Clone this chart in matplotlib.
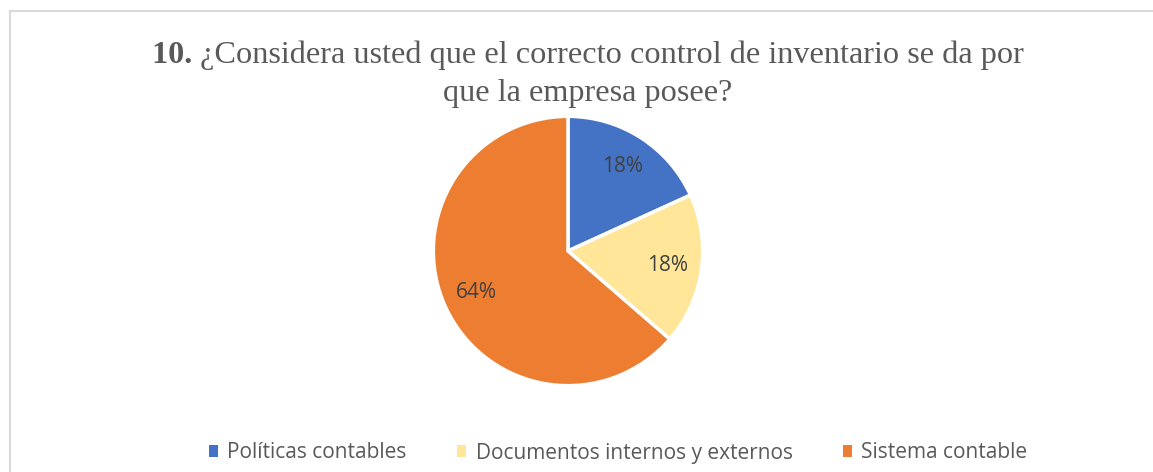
import matplotlib
matplotlib.use("Agg")
import matplotlib.pyplot as plt
from matplotlib.patches import Patch
from matplotlib.lines import Line2D

# data
labels = ["Políticas contables", "Documentos internos y externos", "Sistema contable"]
counts = [2, 2, 7]
colors = ["#4472C4", "#FFE699", "#ED7D31"]
title_num = "10."
title_line1 = "¿Considera usted que el correcto control de inventario se da por"
title_line2 = "que la empresa posee?"

W, H = 1153, 472
fig = plt.figure(figsize=(W / 100, H / 100), dpi=100)
fig.patch.set_facecolor("white")

# chart frame (only top and left edges visible)
fig.add_artist(Line2D([10 / W, 10 / W], [0, 1 - 11 / H], transform=fig.transFigure,
                      color="#D9D9D9", lw=1.5))
fig.add_artist(Line2D([10 / W, 1], [1 - 11 / H, 1 - 11 / H], transform=fig.transFigure,
                      color="#D9D9D9", lw=1.5))

# pie
cx, cy, r = 568, 251, 136
ax = fig.add_axes([(cx - r) / W, (H - cy - r) / H, 2 * r / W, 2 * r / H])
wedges, texts, autotexts = ax.pie(
    counts, colors=colors, startangle=90, counterclock=False,
    autopct=lambda p: f"{p:.0f}%", pctdistance=0.75,
    wedgeprops=dict(edgecolor="white", linewidth=2.5),
    textprops=dict(color="#404040", fontsize=15, family="Open Sans"))
ax.set_xlim(-1.01, 1.01)
ax.set_ylim(-1.01, 1.01)
ax.set_aspect("equal")
ax.axis("off")

# title: bold number + regular text
tcolor = "#595959"
fs = 23.2
renderer = fig.canvas.get_renderer()
t_num = fig.text(0, 0, title_num + " ", fontsize=fs, family="Liberation Serif",
                 fontweight="bold", color=tcolor)
t_rest = fig.text(0, 0, title_line1, fontsize=fs, family="Liberation Serif", color=tcolor)
w1 = t_num.get_window_extent(renderer).width
w2 = t_rest.get_window_extent(renderer).width
x0 = 588 - (w1 + w2) / 2
y1 = 1 - 63 / H
t_num.set_position((x0 / W, y1))
t_rest.set_position(((x0 + w1) / W, y1))
fig.text(588 / W, 1 - 101 / H, title_line2, fontsize=fs, family="Liberation Serif",
         color=tcolor, ha="center")

# legend
handles = [Patch(facecolor=c, edgecolor="none") for c in colors]
fig.legend(handles, labels, loc="center", bbox_to_anchor=(618 / W, 1 - 453 / H),
           ncol=3, frameon=False, handlelength=0.45, handleheight=0.45,
           handletextpad=0.45, columnspacing=2.4,
           prop=dict(family="Open Sans", size=15), labelcolor="#595959")

fig.savefig("out.png", dpi=100, facecolor="white")
